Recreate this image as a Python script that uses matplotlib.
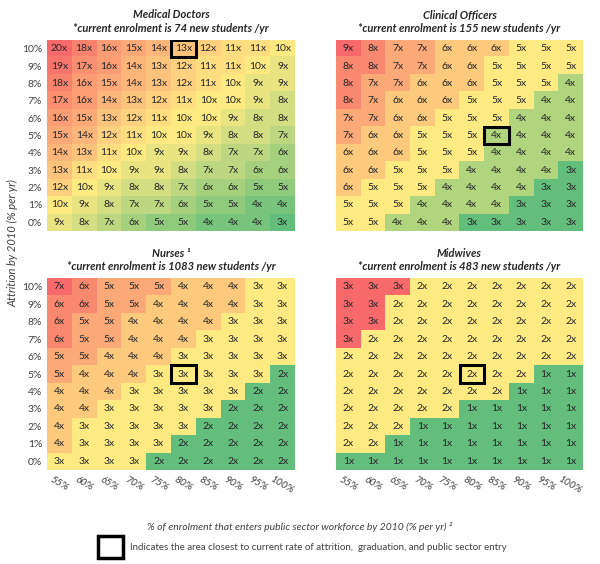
import numpy as np
import matplotlib
matplotlib.use('Agg')
from matplotlib import pyplot as plt
from matplotlib.colors import LinearSegmentedColormap, TwoSlopeNorm
from matplotlib.patches import Rectangle

plt.rcParams['font.family'] = ['Lato', 'DejaVu Sans']

attrition = ['10%', '9%', '8%', '7%', '6%', '5%', '4%', '3%', '2%', '1%', '0%']
entry = ['55%', '60%', '65%', '70%', '75%', '80%', '85%', '90%', '95%', '100%']

doctors = [
    [20, 18, 16, 15, 14, 13, 12, 11, 11, 10],
    [19, 17, 16, 14, 13, 12, 11, 11, 10, 9],
    [18, 16, 15, 14, 13, 12, 11, 10, 9, 9],
    [17, 16, 14, 13, 12, 11, 10, 10, 9, 8],
    [16, 15, 13, 12, 11, 10, 10, 9, 8, 8],
    [15, 14, 12, 11, 10, 10, 9, 8, 8, 7],
    [14, 13, 11, 10, 9, 9, 8, 7, 7, 6],
    [13, 11, 10, 9, 9, 8, 7, 7, 6, 6],
    [12, 10, 9, 8, 8, 7, 6, 6, 5, 5],
    [10, 9, 8, 7, 7, 6, 5, 5, 4, 4],
    [9, 8, 7, 6, 5, 5, 4, 4, 4, 3],
]
officers = [
    [9, 8, 7, 7, 6, 6, 6, 5, 5, 5],
    [8, 8, 7, 7, 6, 6, 5, 5, 5, 5],
    [8, 7, 7, 6, 6, 6, 5, 5, 5, 4],
    [8, 7, 6, 6, 6, 5, 5, 5, 4, 4],
    [7, 7, 6, 6, 5, 5, 5, 4, 4, 4],
    [7, 6, 6, 5, 5, 5, 4, 4, 4, 4],
    [6, 6, 6, 5, 5, 5, 4, 4, 4, 4],
    [6, 6, 5, 5, 5, 4, 4, 4, 4, 3],
    [6, 5, 5, 5, 4, 4, 4, 4, 3, 3],
    [5, 5, 5, 4, 4, 4, 4, 3, 3, 3],
    [5, 5, 4, 4, 4, 3, 3, 3, 3, 3],
]
nurses = [
    [7, 6, 5, 5, 5, 4, 4, 4, 3, 3],
    [6, 6, 5, 5, 4, 4, 4, 4, 3, 3],
    [6, 5, 5, 4, 4, 4, 4, 3, 3, 3],
    [6, 5, 5, 4, 4, 4, 3, 3, 3, 3],
    [5, 5, 4, 4, 4, 3, 3, 3, 3, 3],
    [5, 4, 4, 4, 3, 3, 3, 3, 3, 2],
    [4, 4, 4, 3, 3, 3, 3, 3, 2, 2],
    [4, 4, 3, 3, 3, 3, 3, 2, 2, 2],
    [4, 3, 3, 3, 3, 3, 2, 2, 2, 2],
    [4, 3, 3, 3, 3, 2, 2, 2, 2, 2],
    [3, 3, 3, 3, 2, 2, 2, 2, 2, 2],
]
midwives = [
    [3, 3, 3, 2, 2, 2, 2, 2, 2, 2],
    [3, 3, 2, 2, 2, 2, 2, 2, 2, 2],
    [3, 3, 2, 2, 2, 2, 2, 2, 2, 2],
    [3, 2, 2, 2, 2, 2, 2, 2, 2, 2],
    [2, 2, 2, 2, 2, 2, 2, 2, 2, 2],
    [2, 2, 2, 2, 2, 2, 2, 2, 1, 1],
    [2, 2, 2, 2, 2, 2, 2, 1, 1, 1],
    [2, 2, 2, 2, 2, 1, 1, 1, 1, 1],
    [2, 2, 2, 1, 1, 1, 1, 1, 1, 1],
    [2, 2, 1, 1, 1, 1, 1, 1, 1, 1],
    [1, 1, 1, 1, 1, 1, 1, 1, 1, 1],
]

titles = ['Medical Doctors', 'Clinical Officers', 'Nurses \u00b9', 'Midwives']
enrolment = [74, 155, 1083, 483]
# (row, col) of the cell closest to the current situation
current = [(0, 5), (5, 6), (5, 5), (5, 5)]

cmap = LinearSegmentedColormap.from_list('ryg', ['#63BE7B', '#FFEB84', '#F8696B'])

W, H = 600, 564
fig = plt.figure(figsize=(W / 100, H / 100), dpi=100)

# panel boxes in pixels: left, top, right, bottom
boxes = [(47, 40, 295, 231), (336, 40, 583, 231),
         (47, 278, 295, 470), (336, 278, 583, 470)]

for i, data in enumerate([doctors, officers, nurses, midwives]):
    z = np.array(data)
    x0, y0, x1, y1 = boxes[i]
    ax = fig.add_axes([x0 / W, 1 - y1 / H, (x1 - x0) / W, (y1 - y0) / H])
    norm = TwoSlopeNorm(vmin=z.min(), vcenter=np.median(z), vmax=z.max())
    ax.imshow(z, cmap=cmap, norm=norm, aspect='auto', interpolation='nearest')
    for r in range(z.shape[0]):
        for c in range(z.shape[1]):
            ax.text(c, r, f'{z[r, c]}x', ha='center', va='center',
                    fontsize=7.5, color='#262626')
    r, c = current[i]
    ax.add_patch(Rectangle((c - 0.5, r - 0.5), 1, 1, fill=False,
                           edgecolor='black', linewidth=2.2, zorder=5))
    for s in ax.spines.values():
        s.set_visible(False)
    ax.tick_params(length=0, labelsize=7.5, labelcolor='#404040')
    ax.set_xticks(range(len(entry)))
    ax.set_yticks(range(len(attrition)))
    if i % 2 == 0:
        ax.set_yticklabels(attrition)
    else:
        ax.set_yticklabels([])
    if i >= 2:
        ax.set_xticklabels(entry, rotation=-30, ha='center', va='top',
                           fontstyle='italic')
    else:
        ax.set_xticklabels([])
    cx = (x0 + x1) / 2 / W
    fig.text(cx, 1 - (y0 - 25) / H, titles[i], ha='center', va='center',
             fontsize=8, fontweight='bold', fontstyle='italic', color='#262626')
    fig.text(cx, 1 - (y0 - 11) / H,
             f'*current enrolment is {enrolment[i]} new students /yr',
             ha='center', va='center', fontsize=8, fontweight='bold',
             fontstyle='italic', color='#262626')

fig.text(13 / W, 1 - 243 / H, 'Attrition by 2010 (% per yr)', rotation=90,
         ha='center', va='center', fontsize=8, fontstyle='italic', color='#404040')
fig.text(300 / W, 1 - 527 / H,
         '% of enrolment that enters public sector workforce by 2010 (% per yr) \u00b2',
         ha='center', va='center', fontsize=7.5, fontstyle='italic', color='#404040')

fig.patches.append(Rectangle((98 / W, 1 - 558 / H), 25 / W, 22 / H, fill=False,
                             edgecolor='black', linewidth=2.5,
                             transform=fig.transFigure, figure=fig))
fig.text(130 / W, 1 - 547 / H,
         'Indicates the area closest to current rate of attrition,  graduation, and public sector entry',
         ha='left', va='center', fontsize=7, color='#404040')

fig.savefig('out.png', dpi=100)
